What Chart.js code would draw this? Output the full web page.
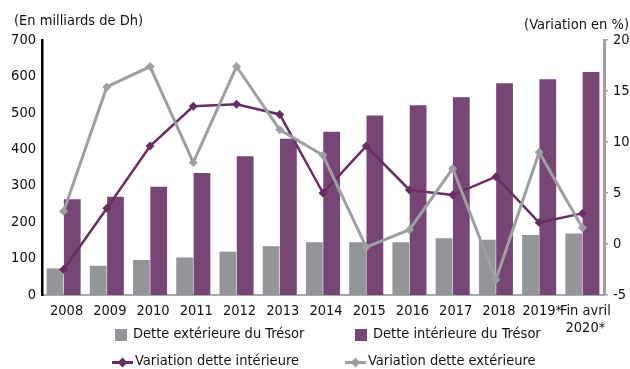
<!DOCTYPE html>
<html lang="fr">
<head>
<meta charset="utf-8">
<title>Dette du Trésor</title>
<script src="https://cdn.jsdelivr.net/npm/chart.js@4.4.1/dist/chart.umd.min.js"></script>
<style>
  html, body { margin: 0; padding: 0; background: #fff; }
  #wrap { position: relative; width: 630px; height: 369px; overflow: hidden; }
  #chart { position: absolute; left: 0; top: 0; }
  .legend-item {
    position: absolute;
    height: 20px;
    line-height: 20px;
    font: 14.5px "DejaVu Sans Condensed", "Liberation Sans Narrow", sans-serif;
    color: #111;
    white-space: nowrap;
  }
  .swatch { position: absolute; top: 4px; left: 0; width: 12px; height: 12px; }
  .line-swatch { position: absolute; top: 9px; left: 0; width: 21px; height: 3px; }
  .line-swatch i {
    position: absolute; left: 7px; top: -2.5px; width: 7px; height: 7px;
    transform: rotate(45deg); background: inherit;
  }
</style>
</head>
<body>
<div id="wrap">
  <canvas id="chart" width="630" height="369"></canvas>
  <div id="legend"></div>
</div>
<script>
// Years on the x axis
const YEARS = ["2008", "2009", "2010", "2011", "2012", "2013", "2014", "2015",
  "2016", "2017", "2018", "2019*", ["Fin avril", "2020*"]];

// Stocks in billions of dirhams (left axis)
const DETTE_EXTERIEURE = [73, 80, 96, 103, 119, 134, 145, 145, 145, 156, 152, 165, 169];
const DETTE_INTERIEURE = [263, 270, 297, 335, 381, 429, 448, 493, 521, 543, 581, 592, 612];

// Year-on-year change in % (right axis)
const VAR_INTERIEURE = [-2.5, 3.5, 9.6, 13.5, 13.7, 12.7, 5.0, 9.6, 5.3, 4.8, 6.6, 2.1, 3.0];
const VAR_EXTERIEURE = [3.2, 15.4, 17.4, 8.0, 17.4, 11.2, 8.7, -0.3, 1.4, 7.4, -3.5, 9.0, 1.6];

const LEFT_TICKS = { min: 0, max: 700, step: 100 };
const RIGHT_TICKS = { min: -5, max: 20, step: 5 };

const FONT = '"DejaVu Sans Condensed", "Liberation Sans Narrow", sans-serif';
const FONT_SIZE = 14.5;
const GREY_BAR = "#939598";
const PURPLE_BAR = "#774675";
const PURPLE_LINE = "#6a2c62";
const GREY_LINE = "#9d9fa2";

// Axis captions drawn above the plot
const axisCaptions = {
  id: "axisCaptions",
  afterDraw(chart) {
    const ctx = chart.ctx;
    ctx.save();
    ctx.fillStyle = "#111";
    ctx.font = FONT_SIZE + "px " + FONT;
    ctx.textBaseline = "middle";
    ctx.textAlign = "left";
    ctx.fillText("(En milliards de Dh)", 14, 21);
    ctx.textAlign = "right";
    ctx.fillText("(Variation en %)", 629, 25);
    ctx.restore();
  },
};

const lineDataset = (label, data, color, width) => ({
  type: "line",
  label,
  data,
  yAxisID: "yRight",
  borderColor: color,
  backgroundColor: color,
  borderWidth: width,
  pointStyle: "rectRot",
  pointRadius: 4.5,
  pointBorderWidth: 0,
  tension: 0,
  order: 0,
});

new Chart(document.getElementById("chart"), {
  data: {
    labels: YEARS,
    datasets: [
      lineDataset("Variation dette extérieure", VAR_EXTERIEURE, GREY_LINE, 3),
      lineDataset("Variation dette intérieure", VAR_INTERIEURE, PURPLE_LINE, 2.5),
      {
        type: "bar",
        label: "Dette extérieure du Trésor",
        data: DETTE_EXTERIEURE,
        yAxisID: "yLeft",
        backgroundColor: GREY_BAR,
        barPercentage: 0.97,
        categoryPercentage: 0.8,
        order: 1,
      },
      {
        type: "bar",
        label: "Dette intérieure du Trésor",
        data: DETTE_INTERIEURE,
        yAxisID: "yLeft",
        backgroundColor: PURPLE_BAR,
        barPercentage: 0.97,
        categoryPercentage: 0.8,
        order: 1,
      },
    ],
  },
  options: {
    responsive: false,
    animation: false,
    layout: { padding: { top: 40, left: 0, right: 0, bottom: 0 } },
    plugins: { legend: { display: false }, tooltip: { enabled: false } },
    scales: {
      x: {
        grid: { display: false, drawTicks: false },
        border: { color: "#a7a9ac", width: 2 },
        ticks: {
          color: "#111",
          font: { family: FONT, size: FONT_SIZE, lineHeight: 1.15 },
          padding: 8,
          labelOffset: 3,
          maxRotation: 0,
          autoSkip: false,
        },
        afterFit(scale) { scale.height = 74; },
      },
      yLeft: {
        position: "left",
        min: LEFT_TICKS.min,
        max: LEFT_TICKS.max,
        grid: { display: false, drawTicks: false },
        border: { color: "#000", width: 2.5 },
        ticks: { stepSize: LEFT_TICKS.step, color: "#111", font: { family: FONT, size: FONT_SIZE }, padding: 6 },
        afterFit(scale) { scale.width = 42; },
      },
      yRight: {
        position: "right",
        min: RIGHT_TICKS.min,
        max: RIGHT_TICKS.max,
        grid: { drawOnChartArea: false, drawTicks: true, tickLength: 4, color: GREY_LINE, lineWidth: 1.5 },
        border: { color: GREY_LINE, width: 3 },
        ticks: { stepSize: RIGHT_TICKS.step, color: "#111", font: { family: FONT, size: FONT_SIZE }, padding: 5 },
        afterFit(scale) { scale.width = 26; },
      },
    },
  },
  plugins: [axisCaptions],
});

// Legend: two rows, bars first, then the change lines
const LEGEND = [
  { text: "Dette extérieure du Trésor", color: GREY_BAR, kind: "box", x: 115, y: 325 },
  { text: "Dette intérieure du Trésor", color: PURPLE_BAR, kind: "box", x: 355, y: 325 },
  { text: "Variation dette intérieure", color: PURPLE_LINE, kind: "line", x: 112, y: 352 },
  { text: "Variation dette extérieure", color: GREY_LINE, kind: "line", x: 345, y: 352 },
];

function renderLegend() {
  const container = document.getElementById("legend");
  LEGEND.forEach((item) => {
    const el = document.createElement("div");
    el.className = "legend-item";
    el.style.left = item.x + "px";
    el.style.top = item.y + "px";

    const mark = document.createElement("span");
    mark.style.background = item.color;
    if (item.kind === "box") {
      mark.className = "swatch";
      el.style.paddingLeft = "18px";
    } else {
      mark.className = "line-swatch";
      mark.appendChild(document.createElement("i"));
      el.style.paddingLeft = "23px";
    }

    const label = document.createElement("span");
    label.textContent = item.text;

    el.appendChild(mark);
    el.appendChild(label);
    container.appendChild(el);
  });
}

renderLegend();
</script>
</body>
</html>
